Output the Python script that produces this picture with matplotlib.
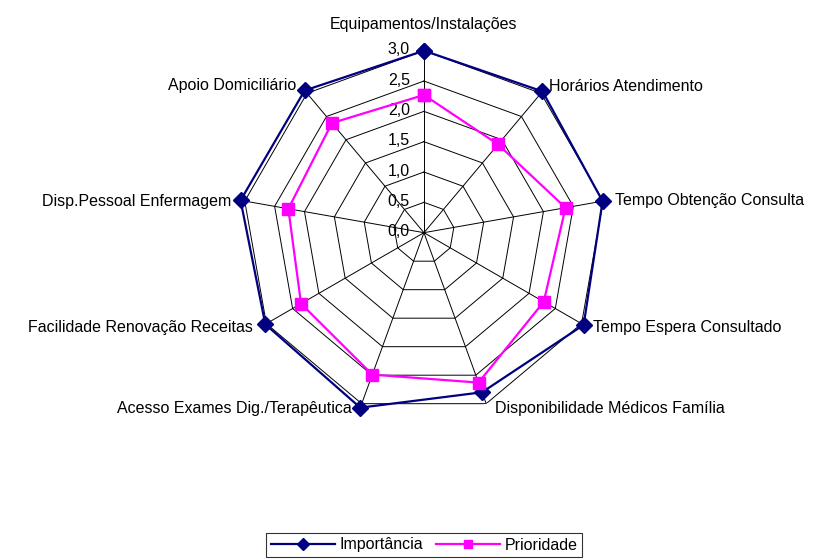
import numpy as np
import matplotlib
matplotlib.use("Agg")
import matplotlib.pyplot as plt

plt.rcParams['font.family'] = ['Liberation Sans', 'DejaVu Sans']

categorias = [
    "Equipamentos/Instalações",
    "Horários Atendimento",
    "Tempo Obtenção Consulta",
    "Tempo Espera Consultado",
    "Disponibilidade Médicos Família",
    "Acesso Exames Dig./Terapêutica",
    "Facilidade Renovação Receitas",
    "Disp.Pessoal Enfermagem",
    "Apoio Domiciliário",
]
importancia = [3.0, 3.04, 2.99, 3.04, 2.8, 3.07, 3.02, 3.07, 3.06]
prioridade = [2.27, 1.9, 2.37, 2.28, 2.63, 2.49, 2.34, 2.27, 2.36]
escala = [0.0, 0.5, 1.0, 1.5, 2.0, 2.5, 3.0]
escala_txt = ["0,0", "0,5", "1,0", "1,5", "2,0", "2,5", "3,0"]

n = len(categorias)
ang = np.linspace(0, 2 * np.pi, n, endpoint=False)
ang_fech = np.append(ang, ang[0])

fig = plt.figure(figsize=(8.27, 5.6), dpi=100)
ax = fig.add_axes([0.2926, 0.2595, 0.4401, 0.65], projection='polar')
ax.set_theta_zero_location('N')
ax.set_theta_direction(-1)
ax.set_ylim(0, 3.0)
ax.grid(False)
ax.spines['polar'].set_visible(False)
ax.set_xticks([])
ax.set_yticks([])
ax.patch.set_alpha(0)

# grelha poligonal
for r in escala[1:]:
    ax.plot(ang_fech, [r] * (n + 1), color='black', lw=0.7, zorder=1)
for a in ang:
    ax.plot([a, a], [0, 3.0], color='black', lw=0.7, zorder=1)

# valores da escala
for r, t in zip(escala, escala_txt):
    ax.annotate(t, xy=(0, r), xytext=(-14, 1), textcoords='offset pixels',
                ha='right', va='center', fontsize=11.5)

# nomes das categorias
desloc = [(0, 26, 'center'), (8, 7, 'left'), (12, 1, 'left'), (11, -4, 'left'),
          (9, -5, 'left'), (-10, -5, 'right'), (-13, -4, 'right'),
          (-13, 0, 'right'), (-11, 8, 'right')]
for a, nome, (dx, dy, ha) in zip(ang, categorias, desloc):
    ax.annotate(nome, xy=(a, 3.0), xytext=(dx, dy), textcoords='offset pixels',
                ha=ha, va='center', fontsize=11.5, annotation_clip=False)

l1, = ax.plot(ang_fech, importancia + importancia[:1], color='#000080', lw=1.6,
              marker='D', ms=8, clip_on=False, zorder=3, label='Importância')
l2, = ax.plot(ang_fech, prioridade + prioridade[:1], color='#FF00FF', lw=1.6,
              marker='s', ms=8, clip_on=False, zorder=3, label='Prioridade')

leg = fig.legend(handles=[l1, l2], loc='center', bbox_to_anchor=(424 / 827, 1 - 545 / 560),
                 ncol=2, fontsize=11.5, frameon=True, fancybox=False, edgecolor='black',
                 handlelength=4.0, handletextpad=0.3, columnspacing=0.8,
                 borderpad=0.3, markerscale=0.75)
leg.get_frame().set_linewidth(0.8)

plt.savefig("out.png", dpi=100)
